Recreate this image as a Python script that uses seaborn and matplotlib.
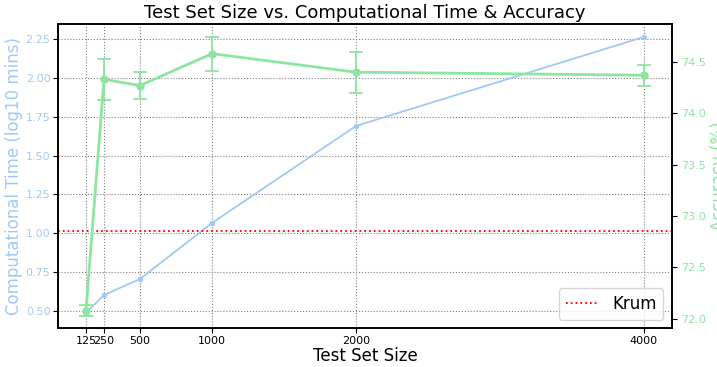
import matplotlib
matplotlib.use("Agg")
import matplotlib.pyplot as plt
import seaborn as sns
import numpy as np
import pandas as pd

sizes = [125, 250, 500, 1000, 2000, 4000]
time_log10 = [0.487, 0.603, 0.706, 1.066, 1.69, 2.263]
accuracy = [72.08, 74.33, 74.27, 74.58, 74.40, 74.37]
accuracy_err = [0.05, 0.20, 0.135, 0.165, 0.20, 0.10]
krum_time = 1.015
xtick_labels = ["125", "250", "500", "1000", "2000", "4000"]

sns.set_style("white")
plt.rcParams['font.family'] = ['DejaVu Sans']
plt.rcParams['text.color'] = 'black'
plt.rcParams['axes.labelcolor'] = 'black'
plt.rcParams['xtick.color'] = 'black'
plt.rcParams['ytick.color'] = 'black'

blue = sns.color_palette("pastel")[0]
green = sns.color_palette("pastel")[2]

df = pd.DataFrame({"size": sizes, "time": time_log10, "acc": accuracy, "err": accuracy_err})

fig, ax = plt.subplots(figsize=(7.17, 3.67), dpi=100)
fig.subplots_adjust(left=0.081, right=0.937, top=0.935, bottom=0.106)

sns.lineplot(data=df, x="size", y="time", ax=ax, color=blue, marker="o",
             markersize=4, linewidth=1.3, markeredgewidth=0)
ax.axhline(krum_time, color="red", linestyle=":", linewidth=1.3, label="Krum")
ax.set_ylim(0.39, 2.347)
ax.set_yticks([0.5, 0.75, 1.0, 1.25, 1.5, 1.75, 2.0, 2.25])
ax.set_ylabel("Computational Time (log10 mins)", color=blue, fontsize=12, labelpad=2)
ax.tick_params(axis="x", labelsize=8, colors="black")
ax.set_xticks(sizes)
ax.set_xticklabels(xtick_labels)
ax.set_xlabel("Test Set Size", fontsize=12, labelpad=1, color="black")
ax.grid(True, linestyle=":", color="gray", linewidth=0.8)
ax.tick_params(axis="both", direction="out", length=3.5, pad=2, left=True, bottom=True)
ax.tick_params(axis="y", labelsize=8, colors="black", labelcolor=blue)

ax2 = ax.twinx()
sns.lineplot(data=df, x="size", y="acc", ax=ax2, color=green, marker="o",
             markersize=6, linewidth=2, markeredgewidth=0)
ax2.errorbar(df["size"], df["acc"], yerr=df["err"], fmt="none", ecolor=green,
             capsize=5, elinewidth=1.3, capthick=1.3)
ax2.set_ylim(71.91, 74.87)
ax2.set_yticks([72.0, 72.5, 73.0, 73.5, 74.0, 74.5])
ax2.set_ylabel("Accuracy (%)", color=green, fontsize=12, labelpad=3)
ax2.tick_params(axis="y", colors="black", labelcolor=green, labelsize=8,
                direction="out", length=3.5, pad=3, right=True)
ax2.grid(False)

for a in (ax, ax2):
    for s in a.spines.values():
        s.set_color("black")
        s.set_linewidth(1.2)

ax.legend(loc="lower right", fontsize=12)
ax.set_title("Test Set Size vs. Computational Time & Accuracy", fontsize=13, pad=4, color="black")

fig.savefig("out.png", dpi=100)
